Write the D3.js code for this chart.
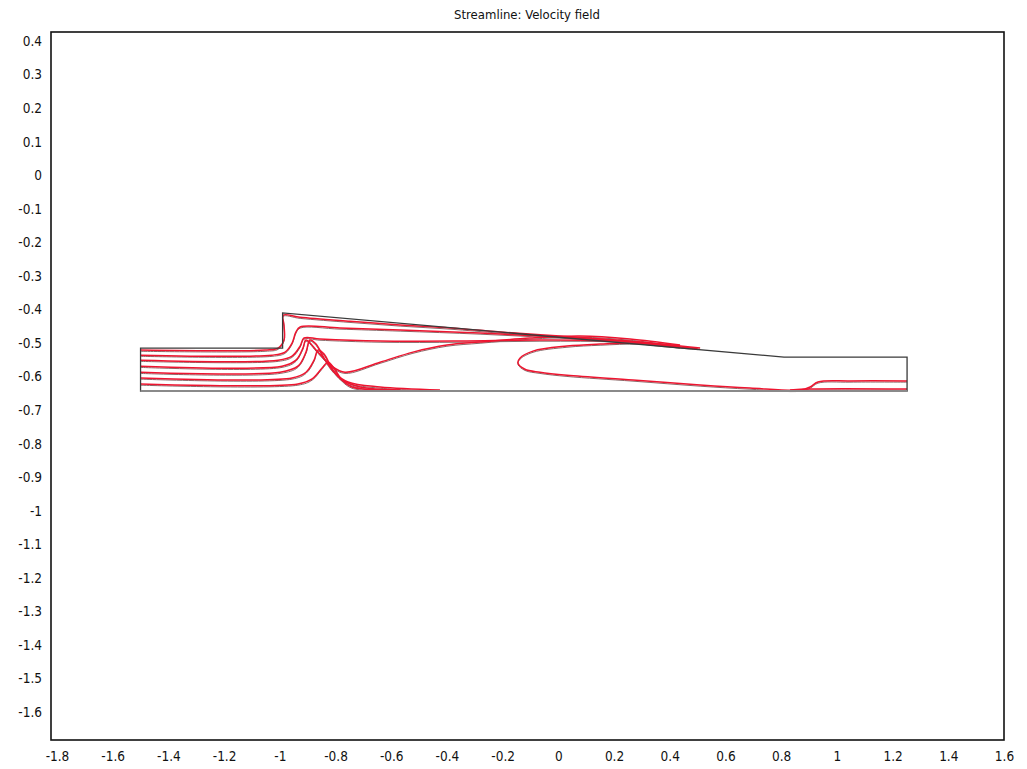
<!DOCTYPE html>
<html>
<head>
<meta charset="utf-8">
<script src="https://cdn.jsdelivr.net/npm/d3@7"></script>
<style>
  body { margin: 0; background: #fff; }
  svg text { font-family: Tahoma, "DejaVu Sans Condensed", "Liberation Sans", sans-serif; fill: #111; }
</style>
</head>
<body>
<svg width="1027" height="769"></svg>
<script>
// axis limits and ticks (data units)
const xLim = [-1.8215, 1.6];
const yLim = [-1.683, 0.427];
const xTicks = [-1.8, -1.6, -1.4, -1.2, -1, -0.8, -0.6, -0.4, -0.2, 0, 0.2, 0.4, 0.6, 0.8, 1, 1.2, 1.4, 1.6];
const yTicks = [0.4, 0.3, 0.2, 0.1, 0, -0.1, -0.2, -0.3, -0.4, -0.5, -0.6, -0.7, -0.8, -0.9, -1, -1.1, -1.2, -1.3, -1.4, -1.5, -1.6];

// geometry boundary
const boundary = [[-1.5, -0.515], [-0.99, -0.515], [-0.99, -0.41], [0.81, -0.542], [1.252, -0.542], [1.252, -0.643], [-1.5, -0.643]];

// streamlines
const sl1 = [[-1.5, -0.521], [-1.053, -0.521], [-1.006, -0.515], [-0.985, -0.491], [-0.985, -0.446], [-0.988, -0.417], [-0.927, -0.423], [-0.748, -0.435], [-0.568, -0.446], [-0.389, -0.455], [-0.209, -0.467], [0.006, -0.479], [0.222, -0.492], [0.365, -0.506], [0.5, -0.516]];
const sl2 = [[-1.5, -0.536], [-1.028, -0.536], [-0.981, -0.527], [-0.956, -0.500], [-0.942, -0.467], [-0.927, -0.452], [-0.784, -0.455], [-0.568, -0.461], [-0.281, -0.470], [0.006, -0.482], [0.293, -0.497], [0.437, -0.512]];
const sl3 = [[-1.5, -0.551], [-1.006, -0.551], [-0.956, -0.539], [-0.927, -0.509], [-0.913, -0.485], [-0.856, -0.488], [-0.640, -0.494], [-0.353, -0.494], [-0.066, -0.491], [0.222, -0.494], [0.437, -0.509]];
const sl4 = [[-1.5, -0.569], [-0.992, -0.569], [-0.942, -0.551], [-0.917, -0.515], [-0.906, -0.491], [-0.863, -0.527], [-0.813, -0.569], [-0.766, -0.587], [-0.640, -0.557], [-0.522, -0.527], [-0.400, -0.506], [-0.281, -0.497], [-0.102, -0.485], [0.078, -0.479], [0.257, -0.488], [0.437, -0.506]];
const sl5 = [[-1.5, -0.587], [-0.999, -0.587], [-0.935, -0.569], [-0.906, -0.527], [-0.892, -0.491], [-0.870, -0.503], [-0.841, -0.545], [-0.805, -0.587], [-0.755, -0.616], [-0.640, -0.631], [-0.425, -0.640]];
const sl6 = [[-1.5, -0.604], [-0.956, -0.604], [-0.906, -0.587], [-0.877, -0.551], [-0.863, -0.521], [-0.841, -0.533], [-0.813, -0.575], [-0.777, -0.610], [-0.712, -0.631], [-0.568, -0.640]];
const sl7 = [[-1.5, -0.622], [-0.935, -0.622], [-0.884, -0.607], [-0.849, -0.575], [-0.827, -0.557], [-0.805, -0.575], [-0.777, -0.610], [-0.741, -0.631], [-0.640, -0.640]];
const bubble = [[0.509, -0.515], [0.293, -0.500], [0.150, -0.503], [0.031, -0.509], [-0.091, -0.524], [-0.138, -0.545], [-0.145, -0.560], [-0.120, -0.578], [-0.066, -0.587], [0.031, -0.596], [0.268, -0.610], [0.509, -0.625], [0.688, -0.634], [0.868, -0.640], [0.904, -0.631], [0.932, -0.616], [1.047, -0.613], [1.252, -0.613]];
const outletLow = [[0.832, -0.640], [0.904, -0.637], [1.252, -0.637]];

const streamlines = [sl1, sl2, sl3, sl4, sl5, sl6, sl7, bubble, outletLow];

const frame = { left: 51, top: 32, right: 1004, bottom: 740 };

const svg = d3.select("svg");

let x = d3.scaleLinear().domain(xLim).range([frame.left, frame.right]);
let y = d3.scaleLinear().domain(yLim).range([frame.bottom, frame.top]);

const fmt = v => { let s = String(+v.toFixed(1)); return s === "-0" ? "0" : s; };

// title
svg.append("text")
    .attr("x", 527)
    .attr("y", 19)
    .attr("text-anchor", "middle")
    .style("font-size", "13px")
    .text("Streamline: Velocity field");

// axes
let gx = svg.append("g")
    .attr("transform", "translate(0," + frame.bottom + ")")
    .call(d3.axisBottom(x).tickValues(xTicks).tickSize(0).tickPadding(11).tickFormat(fmt));
gx.select(".domain").remove();

let gy = svg.append("g")
    .attr("transform", "translate(" + frame.left + ",0)")
    .call(d3.axisLeft(y).tickValues(yTicks).tickSize(0).tickPadding(9).tickFormat(fmt));
gy.select(".domain").remove();

svg.selectAll(".tick text")
    .style("font-size", "13.5px")
    .style("font-family", "Tahoma, 'DejaVu Sans Condensed', 'Liberation Sans', sans-serif")
    .attr("fill", "#111");

// plot frame
svg.append("rect")
    .attr("x", frame.left)
    .attr("y", frame.top)
    .attr("width", frame.right - frame.left)
    .attr("height", frame.bottom - frame.top)
    .attr("fill", "none")
    .attr("stroke", "#111")
    .attr("stroke-width", 1.6);

const line = d3.line()
    .x(d => x(d[0]))
    .y(d => y(d[1]))
    .curve(d3.curveCatmullRom.alpha(0.5));

// streamlines: dark edge then red
svg.append("g").selectAll("path")
    .data(streamlines)
    .enter()
    .append("path")
    .attr("d", line)
    .attr("fill", "none")
    .attr("stroke", "#8a6a6a")
    .attr("stroke-width", 1)
    .attr("transform", "translate(0,1.2)");

svg.append("g").selectAll("path")
    .data(streamlines)
    .enter()
    .append("path")
    .attr("d", line)
    .attr("fill", "none")
    .attr("stroke", "#ee1530")
    .attr("stroke-width", 1.5);

// boundary of geometry
svg.append("path")
    .attr("d", d3.line().x(d => x(d[0])).y(d => y(d[1]))(boundary) + "Z")
    .attr("fill", "none")
    .attr("stroke", "#3a3a3a")
    .attr("stroke-width", 1.3);

svg.append("path")
    .datum([boundary[5], boundary[6]])
    .attr("d", d3.line().x(d => x(d[0])).y(d => y(d[1])))
    .attr("fill", "none")
    .attr("stroke", "#8a8a8a")
    .attr("stroke-width", 2);
</script>
</body>
</html>
